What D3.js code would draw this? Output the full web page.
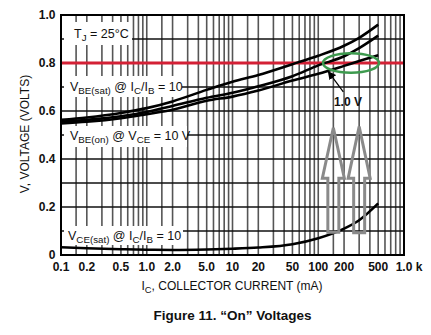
<!DOCTYPE html>
<html><head><meta charset="utf-8">
<script src="https://cdn.jsdelivr.net/npm/d3@7"></script>
<style>
html,body{margin:0;padding:0;background:#fff;}
svg{display:block;}
.nar{font-family:"Liberation Sans Narrow","Arial Narrow","Liberation Sans",Arial,sans-serif;}
</style></head>
<body>
<script>
// ---- data ----
const icValues = [0.1, 0.2, 0.5, 1, 2, 5, 10, 20, 50, 100, 200, 300, 500];
const vbeSatTop = [0.563, 0.573, 0.592, 0.612, 0.640, 0.688, 0.722, 0.750, 0.795, 0.830, 0.872, 0.905, 0.960];
const vbeMid    = [0.555, 0.563, 0.578, 0.596, 0.621, 0.655, 0.676, 0.703, 0.745, 0.790, 0.828, 0.862, 0.914];
const vbeOnLow  = [0.548, 0.555, 0.570, 0.587, 0.605, 0.643, 0.660, 0.685, 0.727, 0.755, 0.788, 0.808, 0.832];
const vceSat    = [0.032, 0.028, 0.024, 0.022, 0.021, 0.023, 0.026, 0.031, 0.045, 0.070, 0.110, 0.145, 0.215];
const xTickValues = [0.1, 0.2, 0.5, 1, 2, 5, 10, 20, 50, 100, 200, 500, 1000];
const xTickLabels = ["0.1","0.2","0.5","1.0","2.0","5.0","10","20","50","100","200","500","1.0 k"];
const yTickValues = [0, 0.2, 0.4, 0.6, 0.8, 1.0];
const yTickLabels = ["0","0.2","0.4","0.6","0.8","1.0"];
const gridMultipliers = [1, 1.5, 2, 3, 4, 5, 6, 7, 8, 9];
const refLevel = 0.8;

const W = 431, H = 335;
const svg = d3.select("body").append("svg").attr("width", W).attr("height", H);
const x = d3.scaleLog().domain([0.1, 1000]).range([61, 404]);
const y = d3.scaleLinear().domain([0, 1]).range([255, 15]);

// grid verticals
const vgrid = [];
[0.1, 1, 10, 100].forEach(d => gridMultipliers.forEach(m => { const v = d*m; if (v > 0.1 && v < 1000) vgrid.push(v); }));
svg.append("g").selectAll("line").data(vgrid).join("line")
  .attr("x1", d => x(d)).attr("x2", d => x(d)).attr("y1", y(0)).attr("y2", y(1))
  .attr("stroke", "#555").attr("stroke-width", 1.6);
// grid horizontals
svg.append("g").selectAll("line").data(d3.range(1, 10).map(i => i/10)).join("line")
  .attr("x1", x(0.1)).attr("x2", x(1000)).attr("y1", d => y(d)).attr("y2", d => y(d))
  .attr("stroke", "#111").attr("stroke-width", 1.5);

// label boxes (white background)
const boxes = [[64, 22, 68, 23], [64, 76, 118, 21], [64, 126, 123, 21], [64, 226, 119, 19]];
svg.append("g").selectAll("rect").data(boxes).join("rect")
  .attr("x", d => d[0]).attr("y", d => d[1]).attr("width", d => d[2]).attr("height", d => d[3]).attr("fill", "#fff");

// red reference line
svg.append("line").attr("x1", x(0.1)).attr("x2", x(1000)).attr("y1", y(refLevel)).attr("y2", y(refLevel))
  .attr("stroke", "#d42035").attr("stroke-width", 2.8);

// curves
const line = d3.line().x((d, i) => x(icValues[i])).y(d => y(d)).curve(d3.curveMonotoneX);
[vbeSatTop, vbeMid, vbeOnLow, vceSat].forEach(s => {
  svg.append("path").attr("d", line(s)).attr("fill", "none").attr("stroke", "#000").attr("stroke-width", 2.6);
});

// frame
svg.append("rect").attr("x", x(0.1)).attr("y", y(1)).attr("width", x(1000)-x(0.1)).attr("height", y(0)-y(1))
  .attr("fill", "none").attr("stroke", "#000").attr("stroke-width", 2);

// green ellipse
svg.append("ellipse").attr("cx", x(241)).attr("cy", y(refLevel)).attr("rx", 28).attr("ry", 9.7)
  .attr("fill", "none").attr("stroke", "#3d9a4e").attr("stroke-width", 2.6);

// pointer arrow
svg.append("defs").append("marker").attr("id", "ah").attr("viewBox", "0 0 10 10").attr("refX", 9).attr("refY", 5)
  .attr("markerWidth", 7).attr("markerHeight", 7).attr("orient", "auto")
  .append("path").attr("d", "M0,0L10,5L0,10z").attr("fill", "#000");
svg.append("line").attr("x1", x(196)).attr("y1", y(0.68)).attr("x2", x(131)).attr("y2", y(0.764))
  .attr("stroke", "#000").attr("stroke-width", 1.2).attr("marker-end", "url(#ah)");
svg.append("text").attr("class", "nar").attr("x", x(222)).attr("y", y(0.62)).attr("text-anchor", "middle")
  .attr("font-size", 12).attr("font-weight", "bold").attr("fill", "#111").text("1.0 V");

// hollow gray arrows
const bigArrows = [{ic: 150, tip: 0.53, base: 0.32, bottom: 0.095}, {ic: 300, tip: 0.535, base: 0.32, bottom: 0.093}];
bigArrows.forEach(a => {
  const cx = x(a.ic), hw = 11, sw = 5.5;
  const p = d3.path();
  p.moveTo(cx, y(a.tip)); p.lineTo(cx+hw, y(a.base)); p.lineTo(cx+sw, y(a.base)); p.lineTo(cx+sw, y(a.bottom));
  p.lineTo(cx-sw, y(a.bottom)); p.lineTo(cx-sw, y(a.base)); p.lineTo(cx-hw, y(a.base)); p.closePath();
  svg.append("path").attr("d", p.toString()).attr("fill", "none").attr("stroke", "#8a8a8a").attr("stroke-width", 3).attr("stroke-linejoin", "miter");
});

// tick labels
svg.append("g").selectAll("text").data(xTickValues).join("text").attr("class", "nar")
  .attr("x", (d, i) => x(d) + (i === xTickValues.length-1 ? 5 : 0)).attr("y", 271).attr("text-anchor", "middle")
  .attr("font-size", 12).attr("font-weight", "bold").attr("fill", "#111").text((d, i) => xTickLabels[i]);
svg.append("g").selectAll("text").data(yTickValues).join("text").attr("class", "nar")
  .attr("x", 55.5).attr("y", d => y(d) + 4.3).attr("text-anchor", "end")
  .attr("font-size", 12).attr("font-weight", "bold").attr("fill", "#111").text((d, i) => yTickLabels[i]);

// rich text with subscripts
function richText(xp, yp, segs, fs, anchor, weight) {
  const t = svg.append("text").attr("class", "nar").attr("x", xp).attr("y", yp).attr("font-size", fs)
    .attr("fill", "#111").attr("text-anchor", anchor || "start").attr("font-weight", weight || "normal");
  let sub = false;
  segs.forEach(s => {
    const isSub = s.startsWith("_");
    const txt = isSub ? s.slice(1) : s;
    const ts = t.append("tspan").text(txt);
    if (isSub && !sub) ts.attr("dy", 3).attr("font-size", fs*0.78);
    else if (isSub) ts.attr("font-size", fs*0.78);
    else if (!isSub && sub) ts.attr("dy", -3);
    sub = isSub;
  });
  return t;
}
richText(74, 38, ["T", "_J", " = 25°C"], 12.5);
richText(70, 91, ["V", "_BE(sat)", " @ I", "_C", "/I", "_B", " = 10"], 12.5);
richText(70, 140, ["V", "_BE(on)", " @ V", "_CE", " = 10 V"], 12.5);
richText(68, 240, ["V", "_CE(sat)", " @ I", "_C", "/I", "_B", " = 10"], 12.5);

// axis titles
richText(232, 290, ["I", "_C", ", COLLECTOR CURRENT (mA)"], 12, "middle");
svg.append("text").attr("class", "nar").attr("transform", "translate(29,134) rotate(-90)").attr("text-anchor", "middle")
  .attr("font-size", 12).attr("fill", "#111").text("V, VOLTAGE (VOLTS)");

// figure caption
svg.append("text").attr("x", 232.5).attr("y", 320).attr("text-anchor", "middle")
  .attr("font-family", "'Liberation Sans',Arial,sans-serif").attr("font-weight", "bold").attr("font-size", 13.5)
  .attr("fill", "#111").text("Figure 11. \u201COn\u201D Voltages");
</script>
</body></html>
